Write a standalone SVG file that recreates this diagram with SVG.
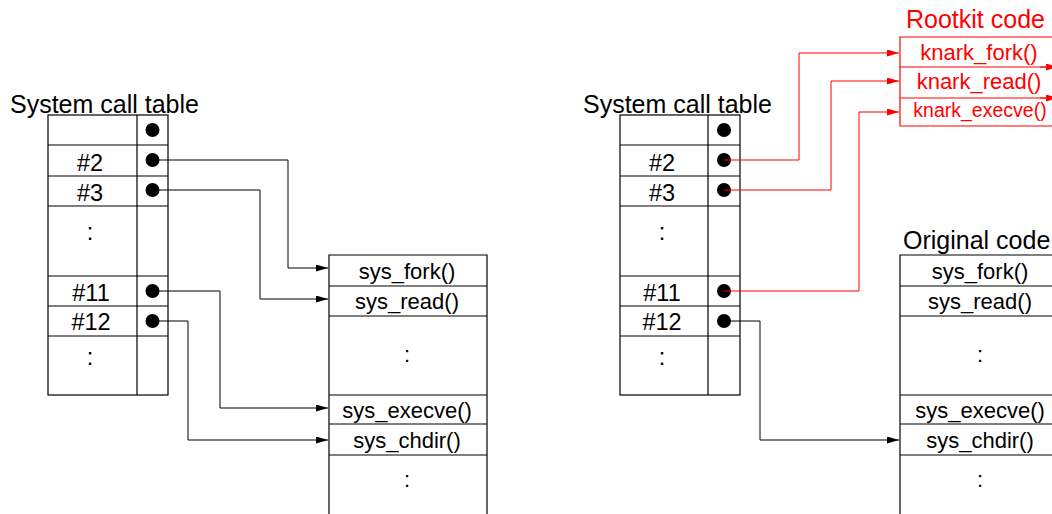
<svg xmlns="http://www.w3.org/2000/svg" width="1052" height="514" viewBox="0 0 1052 514">
<style>
  .box { fill: none; stroke: #000; stroke-width: 1.2; }
  .rbox { fill: none; stroke: #f00; stroke-width: 1.2; }
  .t { font-family: "Liberation Sans", Arial, sans-serif; font-size: 22px; fill: #000; text-anchor: middle; }
  .n { font-size: 23.5px; }
  .title { font-family: "Liberation Sans", Arial, sans-serif; font-size: 25px; fill: #000; }
  .red { fill: #f00; }
  .dot { fill: #000; }
  .c { fill: none; stroke: #000; stroke-width: 1; }
  .cr { fill: none; stroke: #f00; stroke-width: 1; }
</style>
<defs>
  <marker id="ab" markerUnits="userSpaceOnUse" markerWidth="12" markerHeight="8" refX="12" refY="3.5" orient="auto">
    <path d="M0,0 L12,3.5 L0,7 z" fill="#000"/>
  </marker>
  <marker id="ar" markerUnits="userSpaceOnUse" markerWidth="12" markerHeight="8" refX="12" refY="3.5" orient="auto">
    <path d="M0,0 L12,3.5 L0,7 z" fill="#f00"/>
  </marker>
</defs>
<rect width="1052" height="514" fill="#fff"/>

<g id="left-table">
  <text class="title" x="10" y="113">System call table</text>
  <rect class="box" x="48" y="115" width="120" height="280"/>
  <line class="box" x1="137" y1="115" x2="137" y2="395"/>
  <line class="box" x1="48" y1="145" x2="168" y2="145"/>
  <line class="box" x1="48" y1="176" x2="168" y2="176"/>
  <line class="box" x1="48" y1="206" x2="168" y2="206"/>
  <line class="box" x1="48" y1="276" x2="168" y2="276"/>
  <line class="box" x1="48" y1="306" x2="168" y2="306"/>
  <line class="box" x1="48" y1="336" x2="168" y2="336"/>
  <text class="t n" x="90" y="171">#2</text>
  <text class="t n" x="90" y="201">#3</text>
  <text class="t n" x="90" y="240">:</text>
  <text class="t n" x="91" y="301">#11</text>
  <text class="t n" x="91" y="330">#12</text>
  <text class="t n" x="90" y="365">:</text>
  <circle class="dot" cx="152.5" cy="130" r="7"/>
  <circle class="dot" cx="152.5" cy="160" r="7"/>
  <circle class="dot" cx="152.5" cy="190" r="7"/>
  <circle class="dot" cx="152.5" cy="291" r="7"/>
  <circle class="dot" cx="152.5" cy="321" r="7"/>
</g>

<g id="left-syscalls">
  <path class="box" d="M329,520 V255 H487 V520"/>
  <line class="box" x1="329" y1="286" x2="487" y2="286"/>
  <line class="box" x1="329" y1="316" x2="487" y2="316"/>
  <line class="box" x1="329" y1="395" x2="487" y2="395"/>
  <line class="box" x1="329" y1="424" x2="487" y2="424"/>
  <line class="box" x1="329" y1="455" x2="487" y2="455"/>
  <text class="t" x="407" y="279">sys_fork()</text>
  <text class="t" x="407" y="309">sys_read()</text>
  <text class="t" x="407" y="362">:</text>
  <text class="t" x="407" y="418">sys_execve()</text>
  <text class="t" x="407" y="448">sys_chdir()</text>
  <text class="t" x="407" y="487">:</text>
</g>

<g id="right-table">
  <text class="title" x="583" y="113">System call table</text>
  <rect class="box" x="620" y="115" width="120" height="280"/>
  <line class="box" x1="708" y1="115" x2="708" y2="395"/>
  <line class="box" x1="620" y1="145" x2="740" y2="145"/>
  <line class="box" x1="620" y1="176" x2="740" y2="176"/>
  <line class="box" x1="620" y1="206" x2="740" y2="206"/>
  <line class="box" x1="620" y1="276" x2="740" y2="276"/>
  <line class="box" x1="620" y1="306" x2="740" y2="306"/>
  <line class="box" x1="620" y1="336" x2="740" y2="336"/>
  <text class="t n" x="662" y="171">#2</text>
  <text class="t n" x="662" y="201">#3</text>
  <text class="t n" x="662" y="240">:</text>
  <text class="t n" x="662" y="301">#11</text>
  <text class="t n" x="662" y="330">#12</text>
  <text class="t n" x="662" y="365">:</text>
  <circle class="dot" cx="724" cy="130" r="7"/>
  <circle class="dot" cx="724" cy="160" r="7"/>
  <circle class="dot" cx="724" cy="190" r="7"/>
  <circle class="dot" cx="724" cy="291" r="7"/>
  <circle class="dot" cx="724" cy="321" r="7"/>
</g>

<g id="rootkit-code">
  <text class="title red" x="906" y="28">Rootkit code</text>
  <path class="rbox" d="M1060,37 H900 V126 H1060"/>
  <line class="rbox" x1="900" y1="67" x2="1060" y2="67"/>
  <line class="rbox" x1="900" y1="98" x2="1060" y2="98"/>
  <text class="t red" x="979" y="60">knark_fork()</text>
  <text class="t red" x="979" y="89">knark_read()</text>
  <text class="t red" x="980" y="117" style="font-size:19.5px">knark_execve()</text>
</g>

<g id="original-code">
  <text class="title" x="903" y="249">Original code</text>
  <path class="box" d="M1060,255 H900 V520"/>
  <line class="box" x1="900" y1="286" x2="1060" y2="286"/>
  <line class="box" x1="900" y1="316" x2="1060" y2="316"/>
  <line class="box" x1="900" y1="395" x2="1060" y2="395"/>
  <line class="box" x1="900" y1="424" x2="1060" y2="424"/>
  <line class="box" x1="900" y1="455" x2="1060" y2="455"/>
  <text class="t" x="980" y="279">sys_fork()</text>
  <text class="t" x="980" y="309">sys_read()</text>
  <text class="t" x="980" y="362">:</text>
  <text class="t" x="980" y="418">sys_execve()</text>
  <text class="t" x="980" y="448">sys_chdir()</text>
  <text class="t" x="980" y="487">:</text>
</g>

<g id="connectors">
  <polyline class="c" points="152,160 288,160 288,268 328,268" marker-end="url(#ab)"/>
  <polyline class="c" points="152,190 260,190 260,299 328,299" marker-end="url(#ab)"/>
  <polyline class="c" points="152,291 220,291 220,408 328,408" marker-end="url(#ab)"/>
  <polyline class="c" points="152,321 188,321 188,440 328,440" marker-end="url(#ab)"/>
  <polyline class="cr" points="724,160 799,160 799,53 899,53" marker-end="url(#ar)"/>
  <polyline class="cr" points="724,190 831,190 831,81 899,81" marker-end="url(#ar)"/>
  <polyline class="cr" points="724,291 859,291 859,112 899,112" marker-end="url(#ar)"/>
  <polyline class="c" points="724,321 760,321 760,440 899,440" marker-end="url(#ab)"/>
  <line class="cr" x1="1040" y1="67" x2="1058" y2="67" marker-end="url(#ar)"/>
  <line class="cr" x1="1040" y1="98" x2="1058" y2="98" marker-end="url(#ar)"/>
</g>
</svg>
